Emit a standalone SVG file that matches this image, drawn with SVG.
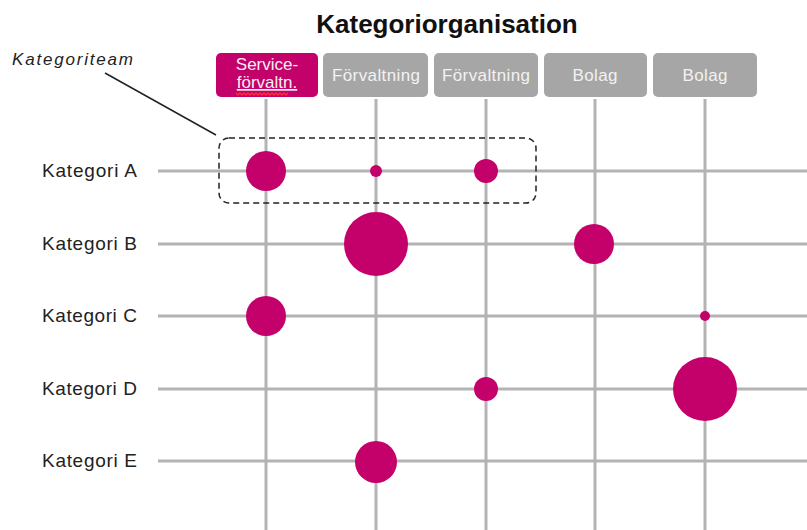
<svg xmlns="http://www.w3.org/2000/svg" width="807" height="530" viewBox="0 0 807 530">
<style>
.grid{stroke:#b3b3b3;stroke-width:3;fill:none}
.dot{fill:#c4006a}
.box{fill:#a6a6a6}
.boxm{fill:#c4006a}
.bt{font-family:"Liberation Sans",Arial,sans-serif;font-size:17px;fill:#f2f2f2;text-anchor:middle}
.lbl{font-family:"Liberation Sans",Arial,sans-serif;font-size:19px;fill:#222}
</style>
<rect width="807" height="530" fill="#fff"/>
<text x="447" y="33" font-family="Liberation Sans,Arial,sans-serif" font-size="26" font-weight="bold" fill="#111" text-anchor="middle">Kategoriorganisation</text>
<g id="connectors">
<line class="grid" x1="266" y1="99" x2="266" y2="530"/>
<line class="grid" x1="376" y1="99" x2="376" y2="530"/>
<line class="grid" x1="486" y1="99" x2="486" y2="530"/>
<line class="grid" x1="595" y1="99" x2="595" y2="530"/>
<line class="grid" x1="705" y1="99" x2="705" y2="530"/>
<line class="grid" x1="158" y1="171" x2="807" y2="171"/>
<line class="grid" x1="158" y1="244" x2="807" y2="244"/>
<line class="grid" x1="158" y1="316" x2="807" y2="316"/>
<line class="grid" x1="158" y1="389" x2="807" y2="389"/>
<line class="grid" x1="158" y1="461" x2="807" y2="461"/>
<line x1="105" y1="73" x2="216" y2="135" stroke="#222" stroke-width="1.5"/>
</g>
<g id="col1"><rect class="boxm" x="216" y="53" width="102" height="44" rx="5"/>
<text class="bt" x="267" y="70">Service-</text><text class="bt" x="267" y="88" text-decoration="underline">förvaltn.</text>
<path d="M236 93 l2 2 l2 -2 l2 2 l2 -2 l2 2 l2 -2 l2 2 l2 -2 l2 2 l2 -2 l2 2 l2 -2 l2 2 l2 -2 l2 2 l2 -2 l2 2 l2 -2 l2 2 l2 -2 l2 2 l2 -2 l2 2 l2 -2 l2 2 l2 -2" fill="none" stroke="#ff3030" stroke-width="1.3"/></g>
<g id="col2"><rect class="box" x="323" y="53" width="105" height="44" rx="5"/><text class="bt" x="376" y="81" textLength="88" lengthAdjust="spacing">Förvaltning</text></g>
<g id="col3"><rect class="box" x="434" y="53" width="104" height="44" rx="5"/><text class="bt" x="486" y="81" textLength="88" lengthAdjust="spacing">Förvaltning</text></g>
<g id="col4"><rect class="box" x="544" y="53" width="103" height="44" rx="5"/><text class="bt" x="595" y="81" textLength="45" lengthAdjust="spacing">Bolag</text></g>
<g id="col5"><rect class="box" x="653" y="53" width="104" height="44" rx="5"/><text class="bt" x="705" y="81" textLength="45" lengthAdjust="spacing">Bolag</text></g>
<g id="rowA"><text class="lbl" x="42" y="177" textLength="95" lengthAdjust="spacing">Kategori A</text></g>
<g id="rowB"><text class="lbl" x="42" y="250" textLength="95" lengthAdjust="spacing">Kategori B</text></g>
<g id="rowC"><text class="lbl" x="42" y="322" textLength="95" lengthAdjust="spacing">Kategori C</text></g>
<g id="rowD"><text class="lbl" x="42" y="395" textLength="95" lengthAdjust="spacing">Kategori D</text></g>
<g id="rowE"><text class="lbl" x="42" y="467" textLength="95" lengthAdjust="spacing">Kategori E</text></g>
<g id="dots">
<circle class="dot" cx="266" cy="171" r="20"/>
<circle class="dot" cx="376" cy="171" r="6"/>
<circle class="dot" cx="486" cy="171" r="12"/>
<circle class="dot" cx="376" cy="244" r="32"/>
<circle class="dot" cx="594" cy="244" r="20"/>
<circle class="dot" cx="266" cy="316" r="20"/>
<circle class="dot" cx="705" cy="316" r="5"/>
<circle class="dot" cx="486" cy="389" r="12"/>
<circle class="dot" cx="705" cy="389" r="32"/>
<circle class="dot" cx="376" cy="462" r="21"/>
</g>
<g id="kategoriteam">
<rect x="219" y="138" width="317" height="65" rx="10" fill="none" stroke="#222" stroke-width="1.5" stroke-dasharray="6 4"/>
<text x="12" y="65" font-family="Liberation Sans,Arial,sans-serif" font-size="17" font-style="italic" fill="#222" textLength="121" lengthAdjust="spacing">Kategoriteam</text>
</g>
</svg>
